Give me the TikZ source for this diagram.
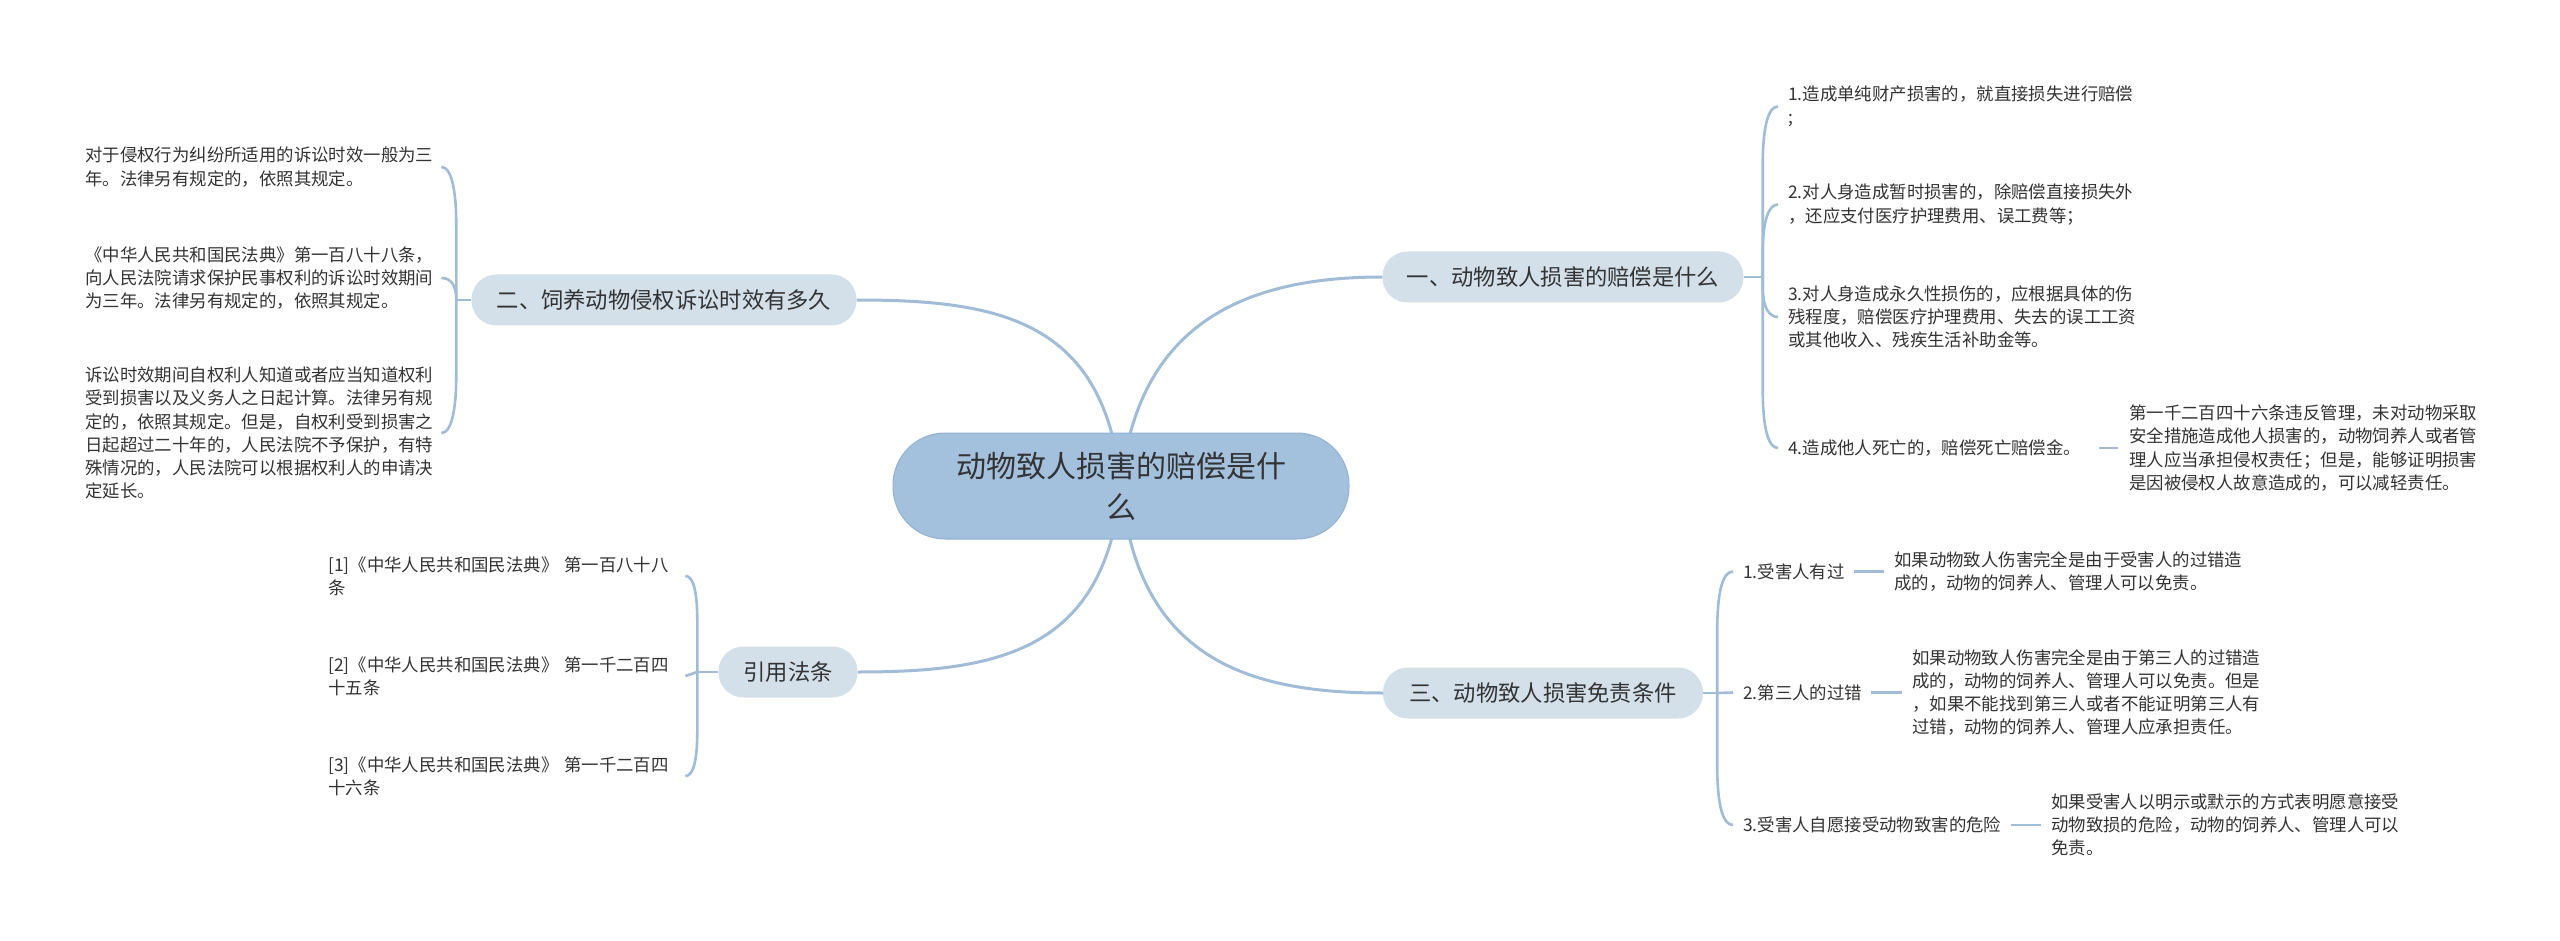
\documentclass[tikz,border=0pt]{standalone}
\usepackage{fontspec}
\setmainfont{Noto Sans CJK SC}
\usetikzlibrary{backgrounds,calc}
\definecolor{linec}{HTML}{A0BCD7}
\definecolor{brfill}{HTML}{D3DFE9}
\definecolor{cfill}{HTML}{A3C0DD}
\definecolor{cdraw}{HTML}{93B2D2}
\definecolor{txt}{HTML}{333333}
\begin{document}
\begin{tikzpicture}[x=1pt,y=-1pt,
  conn/.style={draw=linec,line width=2.6pt},
  mconn/.style={draw=linec,line width=3pt},
  leaf/.style={font=\fontsize{17.4}{23.2}\selectfont,align=left,inner sep=0pt,text=txt},
  branch/.style={fill=brfill,rounded corners=25pt,inner sep=0pt,minimum height=51pt,font=\fontsize{22.3}{28}\selectfont,text=txt},
  central/.style={fill=cfill,draw=cdraw,line width=1pt,rounded corners=52pt,minimum width=456pt,minimum height=106pt,align=center,font=\fontsize{30}{41}\selectfont,text=txt}]
\useasboundingbox (0,0) rectangle (2560,941);

% central and branches
\node[central] (c) at (1121,486) {动物致人损害的赔偿是什\\么};
\node[branch,minimum width=361pt] (b1) at (1563,277) {一、动物致人损害的赔偿是什么};
\node[branch,minimum width=385pt] (b2) at (664,300) {二、饲养动物侵权诉讼时效有多久};
\node[branch,minimum width=320pt] (b3) at (1543,693) {三、动物致人损害免责条件};
\node[branch,minimum width=139pt] (b4) at (788,672) {引用法条};

% branch 二 leaves
\node[leaf,text width=351pt,anchor=west] (l21) at (85,167) {对于侵权行为纠纷所适用的诉讼时效一般为三\\年。法律另有规定的，依照其规定。};
\node[leaf,text width=351pt,anchor=west] (l22) at (85,278) {《中华人民共和国民法典》第一百八十八条，\\向人民法院请求保护民事权利的诉讼时效期间\\为三年。法律另有规定的，依照其规定。};
\node[leaf,text width=351pt,anchor=west] (l23) at (85,433) {诉讼时效期间自权利人知道或者应当知道权利\\受到损害以及义务人之日起计算。法律另有规\\定的，依照其规定。但是，自权利受到损害之\\日起超过二十年的，人民法院不予保护，有特\\殊情况的，人民法院可以根据权利人的申请决\\定延长。};

% 引用法条 leaves
\node[leaf,text width=348pt,anchor=west] (l41) at (328,576) {[1]《中华人民共和国民法典》 第一百八十八\\条};
\node[leaf,text width=348pt,anchor=west] (l42) at (328,676) {[2]《中华人民共和国民法典》 第一千二百四\\十五条};
\node[leaf,text width=348pt,anchor=west] (l43) at (328,776) {[3]《中华人民共和国民法典》 第一千二百四\\十六条};

% branch 一 leaves
\node[leaf,anchor=west] (l11) at (1788,106.5) {1.造成单纯财产损害的，就直接损失进行赔偿\\;};
\node[leaf,anchor=west] (l12) at (1788,204.5) {2.对人身造成暂时损害的，除赔偿直接损失外\\，还应支付医疗护理费用、误工费等；};
\node[leaf,anchor=west] (l13) at (1788,317) {3.对人身造成永久性损伤的，应根据具体的伤\\残程度，赔偿医疗护理费用、失去的误工工资\\或其他收入、残疾生活补助金等。};
\node[leaf,anchor=west] (l14) at (1788,448) {4.造成他人死亡的，赔偿死亡赔偿金。};
\node[leaf,anchor=west] (l14c) at (2129,448) {第一千二百四十六条违反管理，未对动物采取\\安全措施造成他人损害的，动物饲养人或者管\\理人应当承担侵权责任；但是，能够证明损害\\是因被侵权人故意造成的，可以减轻责任。};

% branch 三 leaves
\node[leaf,anchor=west] (l31) at (1743,571.5) {1.受害人有过};
\node[leaf,anchor=west] (l31c) at (1894,571.5) {如果动物致人伤害完全是由于受害人的过错造\\成的，动物的饲养人、管理人可以免责。};
\node[leaf,anchor=west] (l32) at (1743,692.5) {2.第三人的过错};
\node[leaf,anchor=west] (l32c) at (1912,692.5) {如果动物致人伤害完全是由于第三人的过错造\\成的，动物的饲养人、管理人可以免责。但是\\，如果不能找到第三人或者不能证明第三人有\\过错，动物的饲养人、管理人应承担责任。};
\node[leaf,anchor=west] (l33) at (1743,825) {3.受害人自愿接受动物致害的危险};
\node[leaf,anchor=west] (l33c) at (2051,825) {如果受害人以明示或默示的方式表明愿意接受\\动物致损的危险，动物的饲养人、管理人可以\\免责。};

% junctions
\coordinate (j1) at ([xshift=19pt]b1.east);
\coordinate (j2) at ([xshift=-15pt]b2.west);
\coordinate (j3) at ([xshift=14pt]b3.east);
\coordinate (j4) at ([xshift=-21pt]b4.west);

\begin{scope}[on background layer]
\fill[white] (0,0) rectangle (2560,941);
% central connectors
\draw[mconn] (c.center) .. controls ($(c.center)+(-16,-166)$) and ($(b2.east)+(143,0)$) .. (b2.east);
\draw[mconn] (c.center) .. controls ($(c.center)+(16,-166)$) and ($(b1.west)+(-133,0)$) .. (b1.west);
\draw[mconn] (c.center) .. controls ($(c.center)+(-16,164)$) and ($(b4.east)+(143,0)$) .. (b4.east);
\draw[mconn] (c.center) .. controls ($(c.center)+(16,174)$) and ($(b3.west)+(-133,0)$) .. (b3.west);

% branch 二 bracket
\draw[conn] (b2.west) -- (j2);
\draw[conn] (j2) -- ($(j2|-l21.east)+(0,60)$) .. controls ($(j2|-l21.east)+(0,18)$) and ($(j2|-l21.east)+(-6,0)$) .. ([xshift=5pt]l21.east);
\draw[conn] (j2) .. controls ($(j2|-l22.east)+(0,8)$) and ($(j2|-l22.east)+(-5,0)$) .. ([xshift=5pt]l22.east);
\draw[conn] (j2) -- ($(j2|-l23.east)+(0,-60)$) .. controls ($(j2|-l23.east)+(0,-18)$) and ($(j2|-l23.east)+(-6,0)$) .. ([xshift=5pt]l23.east);

% 引用法条 bracket
\draw[conn] (b4.west) -- (j4);
\draw[conn] (j4) -- ($(j4|-l41.east)+(0,45)$) .. controls ($(j4|-l41.east)+(0,12)$) and ($(j4|-l41.east)+(-5,0)$) .. ([xshift=9pt]l41.east);
\draw[conn] (j4) -- ([xshift=9pt]l42.east);
\draw[conn] (j4) -- ($(j4|-l43.east)+(0,-45)$) .. controls ($(j4|-l43.east)+(0,-12)$) and ($(j4|-l43.east)+(-5,0)$) .. ([xshift=9pt]l43.east);

% branch 一 bracket
\draw[conn] (b1.east) -- (j1);
\draw[conn] (j1) -- ($(j1|-l11.west)+(0,60)$) .. controls ($(j1|-l11.west)+(0,18)$) and ($(j1|-l11.west)+(6,0)$) .. ([xshift=-10pt]l11.west);
\draw[conn] (j1) -- ($(j1|-l12.west)+(0,50)$) .. controls ($(j1|-l12.west)+(0,15)$) and ($(j1|-l12.west)+(6,0)$) .. ([xshift=-10pt]l12.west);
\draw[conn] (j1) -- ($(j1|-l13.west)+(0,-30)$) .. controls ($(j1|-l13.west)+(0,-10)$) and ($(j1|-l13.west)+(6,0)$) .. ([xshift=-10pt]l13.west);
\draw[conn] (j1) -- ($(j1|-l14.west)+(0,-60)$) .. controls ($(j1|-l14.west)+(0,-18)$) and ($(j1|-l14.west)+(6,0)$) .. ([xshift=-10pt]l14.west);
\draw[conn] ([xshift=18pt]l14.east) -- ([xshift=-11pt]l14c.west);

% branch 三 bracket
\draw[conn] (b3.east) -- (j3);
\draw[conn] (j3) -- ($(j3|-l31.west)+(0,60)$) .. controls ($(j3|-l31.west)+(0,18)$) and ($(j3|-l31.west)+(6,0)$) .. ([xshift=-10pt]l31.west);
\draw[conn] (j3) -- ([xshift=-10pt]l32.west);
\draw[conn] (j3) -- ($(j3|-l33.west)+(0,-60)$) .. controls ($(j3|-l33.west)+(0,-18)$) and ($(j3|-l33.west)+(6,0)$) .. ([xshift=-10pt]l33.west);
\draw[conn] ([xshift=9pt]l31.east) -- ([xshift=-10pt]l31c.west);
\draw[conn] ([xshift=9pt]l32.east) -- ([xshift=-10pt]l32c.west);
\draw[conn] ([xshift=9pt]l33.east) -- ([xshift=-10pt]l33c.west);
\end{scope}
\end{tikzpicture}
\end{document}
